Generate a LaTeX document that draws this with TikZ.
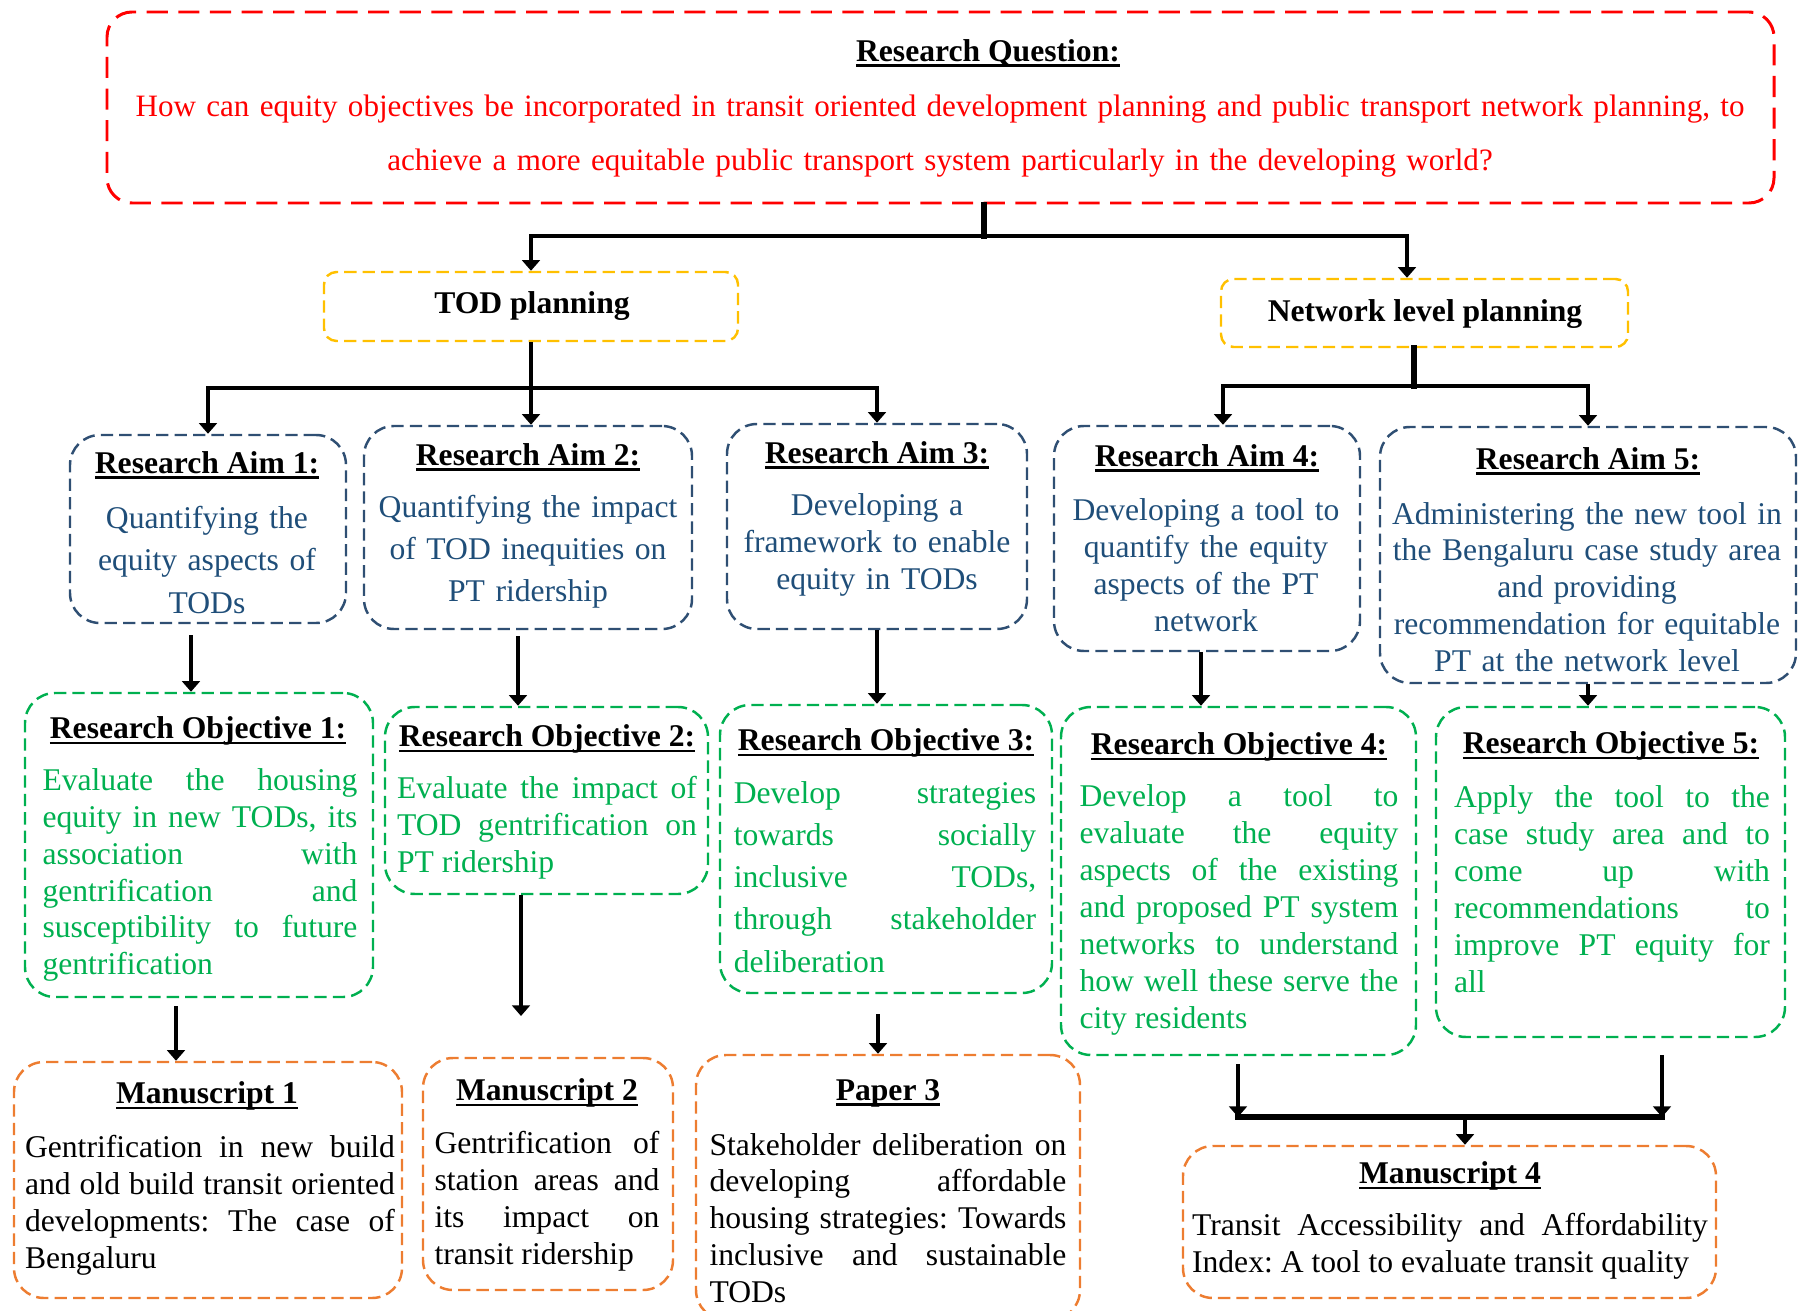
\documentclass[tikz,border=0pt]{standalone}
\usepackage{fontspec}
\setmainfont{Liberation Serif}
\usetikzlibrary{arrows.meta,fit,positioning}
\definecolor{qred}{HTML}{FF0000}
\definecolor{planyel}{HTML}{FFC000}
\definecolor{aimline}{HTML}{2F4F73}
\definecolor{aimblue}{HTML}{1F4E79}
\definecolor{objgreen}{HTML}{00B050}
\definecolor{msorange}{HTML}{ED7D31}
\newcommand{\uhd}[1]{\setbox0=\hbox{#1}\rlap{\rule[-3.2pt]{\wd0}{1.3pt}}\box0}
\newcommand{\bodyfont}{\fontsize{18}{21}\selectfont}
\newcommand{\loosefont}{\fontsize{18}{24}\selectfont}
\hyphenpenalty=10000
\begin{document}
\begin{tikzpicture}[x=0.02cm,y=-0.02cm]
  \tikzstyle{qbox}=[draw=qred,line width=1.7pt,dash pattern=on 12pt off 6pt,rounded corners=0.5cm,inner sep=0pt]
  \tikzstyle{planbox}=[draw=planyel,line width=1.4pt,dash pattern=on 7pt off 3.5pt,rounded corners=0.25cm,inner sep=0pt]
  \tikzstyle{aimbox}=[draw=aimline,line width=1.4pt,dash pattern=on 7pt off 3.5pt,rounded corners=0.6cm,inner sep=0pt]
  \tikzstyle{objbox}=[draw=objgreen,line width=1.4pt,dash pattern=on 7pt off 3.5pt,rounded corners=0.6cm,inner sep=0pt]
  \tikzstyle{msbox}=[draw=msorange,line width=1.4pt,dash pattern=on 7pt off 3.5pt,rounded corners=0.6cm,inner sep=0pt]
  \tikzstyle{head}=[font=\bodyfont\bfseries,inner sep=0pt]
  \tikzstyle{qtxt}=[text=qred,align=center,text width=33.5cm,font=\fontsize{17.7}{31}\selectfont,inner sep=0pt]
  \tikzstyle{aimtxt}=[text=aimblue,align=center,font=\bodyfont,inner sep=0pt]
  \tikzstyle{objtxt}=[text=objgreen,align=justify,font=\bodyfont,inner sep=0pt]
  \tikzstyle{mstxt}=[align=justify,font=\bodyfont,inner sep=0pt]
  \tikzstyle{arr}=[-{Triangle[width=10pt,length=6pt]},line width=2.8pt]
  \tikzstyle{thk}=[line width=3.2pt,line cap=rect]
  \clip (0,0) rectangle (1806,1311);

  % research question
  \node[qbox,fit={(107,12) (1774,203)}] (rq) {};
  \node[head] (rqh) at (988,53) {\uhd{Research Question:}};
  \node[qtxt] (rqt) at (940,136) {How can equity objectives be incorporated in transit oriented development planning and public transport network planning, to\\achieve a more equitable public transport system particularly in the developing world?};

  % planning levels
  \node[planbox,fit={(324,272) (738,341)}] (tod) {};
  \node[head] (todh) at (532,306) {TOD planning};
  \node[planbox,fit={(1221,279) (1628,347)}] (net) {};
  \node[head] (neth) at (1425,314) {Network level planning};

  % aims
  \node[aimbox,fit={(70,435) (346,623)}] (aim1) {};
  \node[head] (aim1h) at (207,465) {\uhd{Research Aim 1:}};
  \node[aimtxt,font=\loosefont,text width=5.2cm] (aim1t) at (207,560) {Quantifying the\\equity aspects of\\TODs};
  \node[aimbox,fit={(364,426) (692,629)}] (aim2) {};
  \node[head] (aim2h) at (528,457) {\uhd{Research Aim 2:}};
  \node[aimtxt,font=\loosefont,text width=6.3cm] (aim2t) at (528,552) {Quantifying the impact\\of TOD inequities on\\PT ridership};
  \node[aimbox,fit={(727,424) (1027,629)}] (aim3) {};
  \node[head] (aim3h) at (877,455) {\uhd{Research Aim 3:}};
  \node[aimtxt,text width=5.8cm] (aim3t) at (877,545) {Developing a\\framework to enable\\equity in TODs};
  \node[aimbox,fit={(1054,426) (1360,651)}] (aim4) {};
  \node[head] (aim4h) at (1207,458) {\uhd{Research Aim 4:}};
  \node[aimtxt,text width=5.9cm] (aim4t) at (1206,565) {Developing a tool to\\quantify the equity\\aspects of the PT\\network};
  \node[aimbox,fit={(1380,427) (1796,683)}] (aim5) {};
  \node[head] (aim5h) at (1588,461) {\uhd{Research Aim 5:}};
  \node[aimtxt,text width=8.2cm] (aim5t) at (1587,587) {Administering the new tool in\\the Bengaluru case study area\\and providing\\recommendation for equitable\\PT at the network level};

  % objectives
  \node[objbox,fit={(25,693) (373,997)}] (obj1) {};
  \node[head] (obj1h) at (198,731) {\uhd{Research Objective 1:}};
  \node[objtxt,text width=6.3cm] (obj1t) at (200,875) {Evaluate~the~housing\linebreak equity~in~new~TODs,~its\linebreak association~with\linebreak gentrification~and\linebreak susceptibility~to~future\linebreak gentrification};
  \node[objbox,fit={(385,707) (708,894)}] (obj2) {};
  \node[head] (obj2h) at (547,739) {\uhd{Research Objective 2:}};
  \node[objtxt,text width=6.0cm] (obj2t) at (547,828) {Evaluate~the~impact~of\linebreak TOD~gentrification~on\linebreak PT~ridership};
  \node[objbox,fit={(720,705) (1052,993)}] (obj3) {};
  \node[head] (obj3h) at (886,743) {\uhd{Research Objective 3:}};
  \node[objtxt,font=\loosefont,text width=6.05cm] (obj3t) at (885,877) {Develop~strategies\linebreak towards~socially\linebreak inclusive~TODs,\linebreak through~stakeholder\linebreak deliberation};
  \node[objbox,fit={(1061,707) (1416,1055)}] (obj4) {};
  \node[head] (obj4h) at (1239,747) {\uhd{Research Objective 4:}};
  \node[objtxt,text width=6.38cm] (obj4t) at (1239,910) {Develop~a~tool~to\linebreak evaluate~the~equity\linebreak aspects~of~the~existing\linebreak and~proposed~PT~system\linebreak networks~to~understand\linebreak how~well~these~serve~the\linebreak city~residents};
  \node[objbox,fit={(1436,707) (1785,1037)}] (obj5) {};
  \node[head] (obj5h) at (1611,746) {\uhd{Research Objective 5:}};
  \node[objtxt,text width=6.32cm] (obj5t) at (1612,889) {Apply~the~tool~to~the\linebreak case~study~area~and~to\linebreak come~up~with\linebreak recommendations~to\linebreak improve~PT~equity~for\linebreak all};

  % outputs
  \node[msbox,fit={(14,1062) (402,1298)}] (ms1) {};
  \node[head] (ms1h) at (207,1096) {\uhd{Manuscript 1}};
  \node[mstxt,text width=7.4cm] (ms1t) at (210,1205) {Gentrification~in~new~build\linebreak and~old~build~transit~oriented\linebreak developments:~The~case~of\linebreak Bengaluru};
  \node[msbox,fit={(423,1058) (673,1290)}] (ms2) {};
  \node[head] (ms2h) at (547,1093) {\uhd{Manuscript 2}};
  \node[mstxt,text width=4.5cm] (ms2t) at (547,1201) {Gentrification~of\linebreak station~areas~and\linebreak its~impact~on\linebreak transit~ridership};
  \node[msbox,fit={(696,1055) (1080,1320)}] (pp3) {};
  \node[head] (pp3h) at (888,1093) {\uhd{Paper 3}};
  \node[mstxt,text width=7.14cm] (pp3t) at (888,1218) {Stakeholder~deliberation~on\linebreak developing~affordable\linebreak housing~strategies:~Towards\linebreak inclusive~and~sustainable\linebreak TODs};
  \node[msbox,fit={(1183,1146) (1716,1298)}] (ms4) {};
  \node[head] (ms4h) at (1450,1176) {\uhd{Manuscript 4}};
  \node[mstxt,text width=10.32cm] (ms4t) at (1450,1246) {Transit~Accessibility~and~Affordability\linebreak Index:~A~tool~to~evaluate~transit~quality};

  % connectors
  \coordinate (qsplit) at (984,236);
  \coordinate (netin) at (1407,236);
  \draw[thk] (qsplit |- rq.south) -- (qsplit);
  \draw[arr] (qsplit) -| (tod.north);
  \draw[arr] (qsplit) -| (netin |- net.north);

  \coordinate (todsplit) at (531,388);
  \draw[arr] (tod.south) -- (tod.south |- aim2.north);
  \draw[arr] (todsplit) -| (aim1.north);
  \draw[arr] (todsplit) -| (aim3.north);

  \coordinate (netsplit) at (1414,386);
  \coordinate (a4in) at (1223,386);
  \draw[thk] (netsplit |- net.south) -- (netsplit);
  \draw[arr] (netsplit) -| (a4in |- aim4.north);
  \draw[arr] (netsplit) -| (aim5.north);

  \coordinate (a1out) at (191,635);
  \coordinate (a2out) at (518,636);
  \coordinate (a4out) at (1201,651);
  \draw[arr] (a1out) -- (a1out |- obj1.north);
  \draw[arr] (a2out) -- (a2out |- obj2.north);
  \draw[arr] (aim3.south) -- (aim3.south |- obj3.north);
  \draw[arr] (a4out |- aim4.south) -- (a4out |- obj4.north);
  \draw[arr] (aim5.south) -- (aim5.south |- obj5.north);

  \coordinate (o1out) at (176,1006);
  \coordinate (o2end) at (521,1016);
  \coordinate (o3out) at (878,1014);
  \coordinate (o4out) at (1238,1064);
  \coordinate (o5out) at (1662,1055);
  \coordinate (msjoin) at (1465,1117);
  \draw[arr] (o1out) -- (o1out |- ms1.north);
  \draw[arr] (o2end |- obj2.south) -- (o2end);
  \draw[arr] (o3out) -- (o3out |- pp3.north);
  \draw[arr] (o4out) -- (o4out |- msjoin);
  \draw[arr] (o5out) -- (o5out |- msjoin);
  \draw[thk] (o4out |- msjoin) -- (o5out |- msjoin);
  \draw[arr] (msjoin) -- (msjoin |- ms4.north);
\end{tikzpicture}
\end{document}
